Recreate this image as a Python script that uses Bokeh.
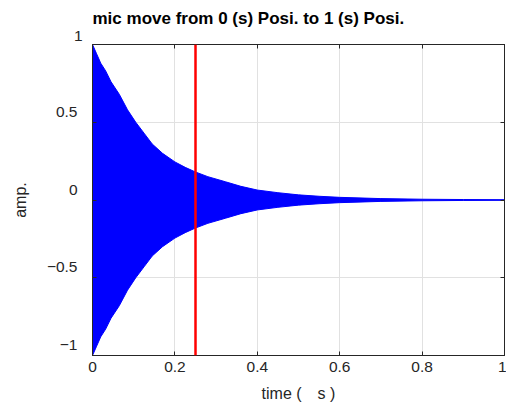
from bokeh.plotting import figure
from bokeh.models import Span, Range1d, FixedTicker, ColumnDataSource, LinearAxis, Title
from bokeh.embed import file_html
from bokeh.resources import INLINE

# envelope of the decaying oscillation
env_t = [0, 0.01, 0.02, 0.032, 0.045, 0.065, 0.085, 0.105, 0.125, 0.145, 0.17, 0.2,
         0.225, 0.25, 0.28, 0.323, 0.36, 0.4, 0.45, 0.5, 0.55, 0.6, 0.7, 0.8, 0.9, 1.0]
env_upper = [1.0, 0.94, 0.88, 0.83, 0.76, 0.68, 0.58, 0.5, 0.43, 0.36, 0.3, 0.245,
             0.21, 0.18, 0.15, 0.117, 0.088, 0.064, 0.047, 0.033, 0.024, 0.017, 0.009,
             0.005, 0.003, 0.002]
env_lower = [-v for v in env_upper]
marker_time = 0.25
x_ticks = [0, 0.2, 0.4, 0.6, 0.8, 1]
y_ticks = [-1, -0.5, 0, 0.5, 1]
x_labels = {0: "0", 0.2: "0.2", 0.4: "0.4", 0.6: "0.6", 0.8: "0.8", 1: "1"}
y_labels = {-1: "\u22121", -0.5: "\u22120.5", 0: "0", 0.5: "0.5", 1: "1"}
title_text = "mic move from 0 (s) Posi. to 1 (s) Posi."
x_title = "time (\u3000s )"
y_title = "amp."

FONT = "Liberation Sans"
DARK = "#262626"
LABEL_SHIFT = 0.067  # the reference draws y tick labels ~10px above their grid lines

p = figure(width=506, height=404, output_backend="svg", toolbar_location=None,
           x_range=Range1d(0, 1), y_range=Range1d(-1, 1),
           min_border_left=92, min_border_right=2, min_border_top=44, min_border_bottom=47)
bottom_axis = p.below[0]
left_axis = p.left[0]

src = ColumnDataSource(dict(t=env_t, up=env_upper, lo=env_lower))
p.varea(x="t", y1="lo", y2="up", source=src, fill_color="#0000FF")
p.line(x="t", y="up", source=src, line_color="#0000FF", line_width=1)
p.line(x="t", y="lo", source=src, line_color="#0000FF", line_width=1)

p.add_layout(Span(location=marker_time, dimension="height", line_color="#FF0000", line_width=2.5))

p.outline_line_color = DARK
p.outline_line_alpha = 1
p.outline_line_width = 1

# mirrored axes (box on), ticks pointing inwards, no labels
top_axis = LinearAxis()
right_axis = LinearAxis()
p.add_layout(top_axis, "above")
p.add_layout(right_axis, "right")

# top y tick label (sits above the frame), placed as the title row nearest the frame
top_label = Title(text=y_labels[y_ticks[-1]], align="left", offset=-18.5, standoff=7,
                  text_font=FONT, text_font_size="15.5px", text_font_style="normal",
                  text_color=DARK)
p.add_layout(top_label, "above")
main_title = Title(text=title_text, align="left", offset=0, standoff=-5,
                   text_font=FONT, text_font_size="17px", text_font_style="bold",
                   text_color="#000000")
p.add_layout(main_title, "above")

# extra range used only to place the other y tick labels
p.extra_y_ranges = {"labels": Range1d(-1 - LABEL_SHIFT, 1 - LABEL_SHIFT)}
ylab_axis = LinearAxis(y_range_name="labels")
p.add_layout(ylab_axis, "left")

for ax in (bottom_axis, left_axis, ylab_axis, top_axis, right_axis):
    ax.axis_line_color = DARK
    ax.major_tick_in = 4
    ax.major_tick_out = 0
    ax.major_tick_line_color = DARK
    ax.minor_tick_line_color = None
    ax.major_label_text_font = FONT
    ax.major_label_text_font_size = "15.5px"
    ax.major_label_text_color = DARK
    ax.axis_label_text_font = FONT
    ax.axis_label_text_font_size = "16px"
    ax.axis_label_text_font_style = "normal"
    ax.axis_label_text_color = DARK

for ax in (bottom_axis, top_axis):
    ax.ticker = FixedTicker(ticks=x_ticks)
for ax in (left_axis, right_axis):
    ax.ticker = FixedTicker(ticks=y_ticks)
for ax in (left_axis, top_axis, right_axis):
    ax.major_label_text_color = None
    ax.major_label_standoff = 0

bottom_axis.major_label_overrides = x_labels
bottom_axis.axis_label = x_title
bottom_axis.major_label_standoff = 6
bottom_axis.axis_label_standoff = 10

ylab_axis.ticker = FixedTicker(ticks=y_ticks)
ylab_axis.major_label_overrides = y_labels
ylab_axis.axis_line_color = None
ylab_axis.major_tick_line_color = None
ylab_axis.major_tick_in = 0
ylab_axis.major_label_standoff = 15
ylab_axis.axis_label = y_title
ylab_axis.axis_label_standoff = 15

p.xgrid.grid_line_color = "#e1e1e1"
p.ygrid.grid_line_color = "#e1e1e1"
p.xgrid.ticker = FixedTicker(ticks=x_ticks)
p.ygrid.ticker = FixedTicker(ticks=y_ticks)

p.background_fill_color = "white"
p.border_fill_color = "white"

open("out.html", "w").write(file_html(p, INLINE))
